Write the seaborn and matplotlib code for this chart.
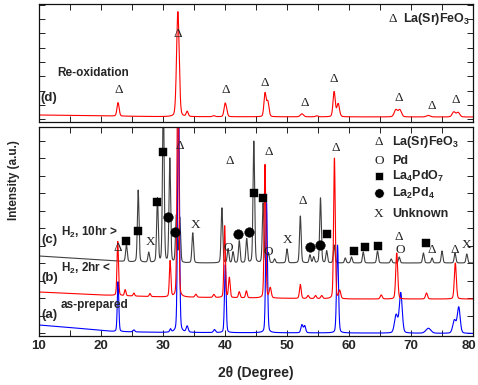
import numpy as np
import matplotlib
matplotlib.use("Agg")
import matplotlib.pyplot as plt
import matplotlib.transforms as mtransforms
from matplotlib.ticker import MultipleLocator, FixedLocator
import seaborn as sns

# ---------------- data ----------------
# (d) Re-oxidation  (top panel, arbitrary intensity units)
d_base_x = [10, 30, 80]
d_base_y = [7, 5.3, 5]
d_pos = [22.75, 32.4, 33.9, 38.2, 40.0, 40.25, 46.45, 46.9, 52.4, 54.8, 57.6, 58.25, 67.55, 68.2, 72.8, 76.9, 77.6]
d_hgt = [13.5, 105, 5, 1, 12, 5, 23, 15, 3, 1, 25, 13, 7, 7, 1.5, 5, 4.5]
d_wid = [0.17, 0.21, 0.16, 0.2, 0.17, 0.16, 0.17, 0.19, 0.25, 0.2, 0.18, 0.21, 0.26, 0.26, 0.3, 0.26, 0.26]

# (a) as-prepared (blue)
a_base_x = [10, 15, 22, 30, 60, 80]
a_base_y = [11, 8.5, 4.5, 3.5, 3, 2.5]
a_pos = [22.75, 25.3, 31.2, 32.5, 33.9, 38.3, 40.05, 46.7, 52.4, 52.85, 58.15, 67.6, 68.35, 72.8, 77.0, 77.7]
a_hgt = [50, 2, 3, 260, 6, 3, 68, 130, 8, 7, 88, 18, 40, 5, 13, 26]
a_wid = [0.12, 0.15, 0.12, 0.14, 0.16, 0.16, 0.13, 0.14, 0.16, 0.16, 0.15, 0.26, 0.23, 0.4, 0.26, 0.23]

# (b) H2 2hr (red)
b_base_x = [10, 20, 30, 60, 80]
b_base_y = [44, 41, 39, 37, 37]
b_pos = [22.7, 23.9, 25.3, 27.9, 31.15, 32.4, 35.3, 38.2, 39.95, 40.7, 42.3, 43.45, 46.45, 47.3,
         52.15, 53.4, 54.6, 55.6, 57.65, 58.5, 65.2, 67.7, 72.5, 77.15]
b_hgt = [54, 6, 3, 3, 36, 250, 3, 3, 72, 20, 6, 7, 134, 10, 14, 3, 3, 3, 141, 8, 4, 46, 6, 36]
b_wid = [0.12, 0.12, 0.12, 0.12, 0.12, 0.13, 0.15, 0.15, 0.12, 0.13, 0.13, 0.13, 0.13, 0.16,
         0.14, 0.15, 0.15, 0.15, 0.13, 0.16, 0.16, 0.16, 0.16, 0.16]

# (c) H2 10hr (dark grey)
c_base_x = [10, 15, 20, 25, 30, 80]
c_base_y = [80, 78, 76, 74, 73, 73]
c_pos = [24.1, 26.0, 27.7, 29.1, 30.05, 31.1, 32.15, 32.7, 34.8, 39.5, 40.5, 41.3, 42.3, 43.5,
         44.65, 46.15, 47.0, 48.0, 50.0, 52.15, 53.7, 54.3, 55.4, 56.4, 57.6, 59.4, 60.4, 62.3,
         64.6, 66.8, 68.1, 72.0, 73.4, 75.0, 77.1, 79.0]
c_hgt = [17, 72, 10, 64, 170, 104, 47, 45, 30, 55, 14, 11, 22, 24,
         122, 60, 10, 4, 14, 47, 8, 6, 65, 12, 18, 5, 6, 11,
         12, 4, 6, 10, 5, 12, 10, 9]
c_wid = [0.13] * len(c_pos)

# phase markers, top panel
d_tri_x = [22.8, 32.4, 40.1, 46.45, 52.9, 57.6, 68.1, 73.4, 77.2]
d_tri_y = [32, 88, 32, 39, 19, 43, 24, 16, 22]

# phase markers, bottom panel
tri_x = [22.7, 32.7, 40.7, 47.0, 52.5, 57.9, 68.1, 73.4, 77.1]
tri_y = [88, 190, 175, 184, 135, 188, 99, 86, 86]
pd_x = [40.5, 47.0, 68.2]
pd_y = [88, 84, 86]
sq_x = [24.1, 26.0, 29.1, 30.05, 44.7, 46.2, 56.5, 60.8, 62.6, 64.7, 72.4]
sq_y = [95, 105, 134, 184, 143, 138, 102, 85, 89, 90, 93]
ci_x = [30.85, 31.9, 42.15, 43.8, 53.7, 55.3]
ci_y = [119, 104, 102, 104, 89, 91]
unk_x = [28.0, 35.2, 50.05, 79.0]
unk_y = [94, 111, 96, 91]

legend_labels = ["La(Sr)FeO$_3$", "Pd", "La$_4$PdO$_7$", "La$_2$Pd$_4$", "Unknown"]
xticks = [10, 20, 30, 40, 50, 60, 70, 80]

# ---------------- style ----------------
sns.set_style("ticks")
plt.rcParams["font.family"] = ["Liberation Sans", "DejaVu Sans"]
plt.rcParams["font.weight"] = "bold"
plt.rcParams["mathtext.fontset"] = "custom"
plt.rcParams["mathtext.default"] = "bf"
plt.rcParams["mathtext.bf"] = "Liberation Sans:bold"
plt.rcParams["mathtext.rm"] = "Liberation Sans:bold"
plt.rcParams["mathtext.it"] = "Liberation Sans:bold"

SERIF = ["Liberation Serif", "DejaVu Serif"]

grid = np.linspace(10, 80, 3501)


def spectrum(bx, by, pos, hgt, wid):
    y = np.interp(grid, bx, by)
    for c, h, w in zip(pos, hgt, wid):
        g = np.exp(-0.5 * ((grid - c) / w) ** 2)
        lz = 1.0 / (1.0 + ((grid - c) / (1.2 * w)) ** 2)
        y = y + h * (0.8 * g + 0.2 * lz)
    return y


W, H = 478, 385
fig = plt.figure(figsize=(W / 100, H / 100), dpi=100)
L, R = 39, 473
ax_top = fig.add_axes([L / W, 1 - 122 / H, (R - L) / W, 118 / H])
ax_bot = fig.add_axes([L / W, 1 - 336 / H, (R - L) / W, 209 / H])

LW = 0.8

# top panel
sns.lineplot(x=grid, y=spectrum(d_base_x, d_base_y, d_pos, d_hgt, d_wid), ax=ax_top,
             color="#ff0000", lw=LW, estimator=None, sort=False)
# bottom panel
sns.lineplot(x=grid, y=spectrum(c_base_x, c_base_y, c_pos, c_hgt, c_wid), ax=ax_bot,
             color="#404040", lw=LW, estimator=None, sort=False)
sns.lineplot(x=grid, y=spectrum(a_base_x, a_base_y, a_pos, a_hgt, a_wid), ax=ax_bot,
             color="#0000ff", lw=LW, estimator=None, sort=False)
sns.lineplot(x=grid, y=spectrum(b_base_x, b_base_y, b_pos, b_hgt, b_wid), ax=ax_bot,
             color="#ff0000", lw=LW, estimator=None, sort=False)

GS = 9.5  # glyph marker size
GC = "#222222"
for x, y in zip(d_tri_x, d_tri_y):
    ax_top.text(x, y, "\u0394", ha="center", va="center", fontsize=GS, family=SERIF,
                fontweight="normal", color=GC)
for x, y in zip(tri_x, tri_y):
    ax_bot.text(x, y, "\u0394", ha="center", va="center", fontsize=GS, family=SERIF,
                fontweight="normal", color=GC)
for x, y in zip(pd_x, pd_y):
    ax_bot.text(x, y, "O", ha="center", va="center", fontsize=GS, family=SERIF,
                fontweight="normal", color=GC)
for x, y in zip(unk_x, unk_y):
    ax_bot.text(x, y, "X", ha="center", va="center", fontsize=GS, family=SERIF,
                fontweight="normal", color=GC)
sns.scatterplot(x=sq_x, y=sq_y, marker="s", s=30, color="black", edgecolor="black",
                linewidth=0.3, ax=ax_bot, zorder=5)
sns.scatterplot(x=ci_x, y=ci_y, marker="o", s=48, color="black", edgecolor="black",
                linewidth=0.3, ax=ax_bot, zorder=5)

# legend (bottom panel)
lx, tx = 64.8, 66.9
ly = [194, 175, 160, 143, 122]
ax_bot.text(lx, ly[0], "\u0394", ha="center", va="center", fontsize=GS, family=SERIF,
            fontweight="normal", color=GC)
ax_bot.text(lx, ly[1], "O", ha="center", va="center", fontsize=GS, family=SERIF,
            fontweight="normal", color=GC)
sns.scatterplot(x=[lx], y=[ly[2]], marker="s", s=30, color="black", ax=ax_bot, zorder=5)
sns.scatterplot(x=[lx], y=[ly[3]], marker="o", s=48, color="black", ax=ax_bot, zorder=5)
ax_bot.text(lx, ly[4], "X", ha="center", va="center", fontsize=GS, family=SERIF,
            fontweight="normal", color=GC)
for y, lab in zip(ly, legend_labels):
    ax_bot.text(tx, y, lab, ha="left", va="center", fontsize=9)

# top legend
ax_top.text(67.1, 103, "\u0394", ha="center", va="center", fontsize=GS, family=SERIF,
            fontweight="normal", color=GC)
ax_top.text(68.7, 103, "La(Sr)FeO$_3$", ha="left", va="center", fontsize=9)

# curve labels
ax_top.text(10.2, 24, "(d)", ha="left", va="center", fontsize=9.5)
ax_top.text(12.9, 49, "Re-oxidation", ha="left", va="center", fontsize=8.5)
ax_bot.text(10.4, 96, "(c)", ha="left", va="center", fontsize=9.5)
ax_bot.text(13.5, 104, "H$_2$, 10hr >", ha="left", va="center", fontsize=8.5)
ax_bot.text(10.4, 58, "(b)", ha="left", va="center", fontsize=9.5)
ax_bot.text(13.5, 68, "H$_2$, 2hr <", ha="left", va="center", fontsize=8.5)
ax_bot.text(10.4, 21, "(a)", ha="left", va="center", fontsize=9.5)
ax_bot.text(13.5, 31, "as-prepared", ha="left", va="center", fontsize=8.5)

# axes formatting
for ax, ymax, yt in [(ax_top, 118, np.arange(2.7, 118, 14.3)),
                     (ax_bot, 209, np.arange(2.7, 209, 17.5))]:
    ax.set_xlim(10, 80)
    ax.set_ylim(0, ymax)
    ax.xaxis.set_major_locator(FixedLocator(xticks))
    ax.xaxis.set_minor_locator(MultipleLocator(5))
    ax.yaxis.set_major_locator(FixedLocator(yt))
    ax.set_yticklabels([])
    ax.tick_params(which="both", direction="in", top=True, right=True, length=4,
                   width=0.7, color="#222222")
    ax.set_xlabel("")
    ax.set_ylabel("")
    for s in ax.spines.values():
        s.set_linewidth(0.9)
        s.set_color("#111111")

ax_top.set_xticklabels([])
ax_bot.set_xticklabels([str(t) for t in xticks], fontsize=9.5, fontweight="bold")
ax_bot.tick_params(axis="x", pad=3)
# keep the last label ("80") inside the figure
last = ax_bot.get_xticklabels()[-1]
last.set_transform(last.get_transform() +
                   mtransforms.ScaledTranslation(-4 / 100, 0, fig.dpi_scale_trans))

fig.text(256 / W, 1 - 373 / H, "2\u03b8 (Degree)", ha="center", va="center", fontsize=10,
         fontweight="bold")
fig.text(14 / W, 1 - 180 / H, "Intensity (a.u.)", ha="center", va="center", rotation=90,
         fontsize=8.5, fontweight="bold")

fig.savefig("out.png", dpi=100)
